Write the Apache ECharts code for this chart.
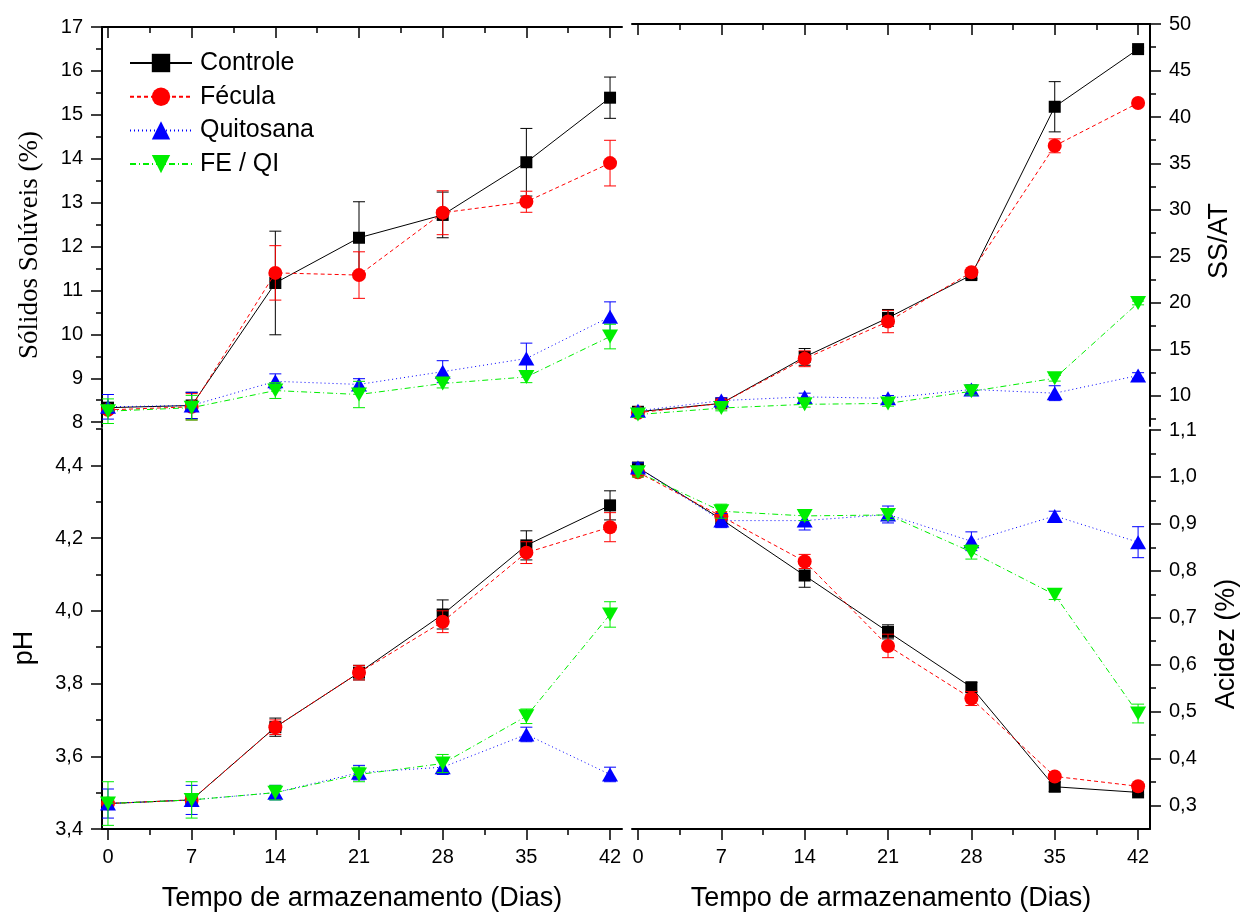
<!DOCTYPE html>
<html><head><meta charset="utf-8">
<script src="https://cdn.jsdelivr.net/npm/echarts@6/dist/echarts.min.js"></script>
<style>html,body{margin:0;padding:0;background:#fff}#chart{width:1241px;height:915px}</style>
</head><body><div id="chart"></div>
<script>
// ---------------- DATA ----------------
const days = [0, 7, 14, 21, 28, 35, 42];
const treatments = ['Controle', 'Fécula', 'Quitosana', 'FE / QI'];

// Sólidos Solúveis (%)
const ssControle     = [8.33, 8.38, 11.17, 12.20, 12.72, 13.92, 15.39];
const ssFecula       = [8.28, 8.35, 11.40, 11.35, 12.77, 13.02, 13.90];
const ssQuitosana    = [8.35, 8.38, 8.93, 8.86, 9.15, 9.45, 10.40];
const ssFeQi         = [8.25, 8.33, 8.72, 8.63, 8.88, 9.03, 9.95];
const ssControleErr  = [0.10, 0.30, 1.18, 0.82, 0.52, 0.77, 0.47];
const ssFeculaErr    = [0.05, 0.30, 0.62, 0.53, 0.50, 0.24, 0.52];
const ssQuitosanaErr = [0.28, 0.30, 0.17, 0.13, 0.25, 0.35, 0.34];
const ssFeQiErr      = [0.28, 0.28, 0.18, 0.30, 0.10, 0.13, 0.28];

// SS/AT
const ratioControle     = [8.3, 9.2, 14.2, 18.4, 23.0, 41.1, 47.3];
const ratioFecula       = [8.2, 9.2, 14.0, 18.0, 23.3, 36.9, 41.5];
const ratioQuitosana    = [8.4, 9.5, 9.9, 9.75, 10.7, 10.3, 12.2];
const ratioFeQi         = [8.0, 8.7, 9.1, 9.2, 10.5, 11.9, 20.0];
const ratioControleErr  = [0.2, 0.3, 0.9, 0.9, 0.4, 2.7, 0.2];
const ratioFeculaErr    = [0.2, 0.3, 0.85, 1.2, 0.3, 0.75, 0.2];
const ratioQuitosanaErr = [0.3, 0.3, 0.4, 0.3, 0.5, 0.8, 0.3];
const ratioFeQiErr      = [0.3, 0.3, 0.3, 0.3, 0.4, 0.3, 0.2];

// pH
const phControle     = [3.47, 3.48, 3.68, 3.83, 3.99, 4.18, 4.29];
const phFecula       = [3.47, 3.48, 3.68, 3.83, 3.97, 4.16, 4.23];
const phQuitosana    = [3.47, 3.48, 3.50, 3.555, 3.57, 3.66, 3.55];
const phFeQi         = [3.47, 3.48, 3.50, 3.55, 3.58, 3.71, 3.99];
const phControleErr  = [0.01, 0.01, 0.025, 0.02, 0.04, 0.04, 0.04];
const phFeculaErr    = [0.01, 0.01, 0.02, 0.02, 0.03, 0.03, 0.04];
const phQuitosanaErr = [0.04, 0.04, 0.02, 0.02, 0.02, 0.02, 0.02];
const phFeQiErr      = [0.06, 0.05, 0.02, 0.02, 0.025, 0.02, 0.035];

// Acidez (%)
const acControle     = [1.02, 0.91, 0.79, 0.67, 0.552, 0.34, 0.328];
const acFecula       = [1.01, 0.916, 0.82, 0.64, 0.528, 0.362, 0.341];
const acQuitosana    = [1.02, 0.907, 0.907, 0.92, 0.863, 0.917, 0.861];
const acFeQi         = [1.01, 0.927, 0.917, 0.919, 0.84, 0.749, 0.496];
const acControleErr  = [0.01, 0.01, 0.025, 0.015, 0.01, 0.01, 0.005];
const acFeculaErr    = [0.01, 0.01, 0.015, 0.025, 0.015, 0.005, 0.005];
const acQuitosanaErr = [0.01, 0.015, 0.02, 0.018, 0.02, 0.01, 0.033];
const acFeQiErr      = [0.01, 0.015, 0.01, 0.01, 0.015, 0.01, 0.02];

// Tick values
const xMajorTicks = [0, 7, 14, 21, 28, 35, 42];
const xMinorTicks = [3.5, 10.5, 17.5, 24.5, 31.5, 38.5];
const ssMajorTicks = [8, 9, 10, 11, 12, 13, 14, 15, 16, 17];
const ssMinorTicks = [8.5, 9.5, 10.5, 11.5, 12.5, 13.5, 14.5, 15.5, 16.5];
const phMajorTicks = [3.4, 3.6, 3.8, 4.0, 4.2, 4.4];
const phMinorTicks = [3.5, 3.7, 3.9, 4.1, 4.3, 4.5];
const ratioMajorTicks = [10, 15, 20, 25, 30, 35, 40, 45, 50];
const ratioMinorTicks = [7.5, 12.5, 17.5, 22.5, 27.5, 32.5, 37.5, 42.5, 47.5];
const acMajorTicks = [0.3, 0.4, 0.5, 0.6, 0.7, 0.8, 0.9, 1.0, 1.1];
const acMinorTicks = [0.35, 0.45, 0.55, 0.65, 0.75, 0.85, 0.95, 1.05];

// ---------------- STYLE ----------------
const SANS = '"Liberation Sans", Arial, sans-serif';
const SERIF = '"Liberation Serif", "Times New Roman", serif';
const styles = [
  {color: '#000000', symbol: 'rect', size: 12, dash: 'solid'},
  {color: '#ff0000', symbol: 'circle', size: 14, dash: [4, 3]},
  {color: '#0000ff', symbol: 'triangle', size: [16, 14], dash: [1, 3]},
  {color: '#00ee00', symbol: 'path://M0,0 L20,0 L10,18 Z', size: [16, 14], dash: [6, 3, 1, 3]}
];

const fmtComma = v => v.toFixed(1).replace('.', ',');
const fmtInt = v => String(Math.round(v));

function xAxes(gridIndex, pos, showLabels) {
  const inside = pos === 'top';
  return [
    {type: 'value', gridIndex, position: pos, min: -0.5, max: 43,
     axisLine: {show: true, onZero: false, lineStyle: {color: '#000', width: 2}},
     axisTick: {show: true, inside, length: 11, customValues: xMajorTicks, lineStyle: {color: '#000', width: 1.5}},
     axisLabel: {show: showLabels, customValues: xMajorTicks, fontSize: 20, color: '#000', fontFamily: SANS, margin: 18},
     splitLine: {show: false}},
    {type: 'value', gridIndex, position: pos, min: -0.5, max: 43,
     axisLine: {show: false, onZero: false},
     axisTick: {show: true, inside, length: 6, customValues: xMinorTicks, lineStyle: {color: '#000', width: 1.5}},
     axisLabel: {show: false},
     splitLine: {show: false}}
  ];
}
function yAxes(gridIndex, pos, min, max, major, minor, fmt) {
  return [
    {type: 'value', gridIndex, position: pos, min, max,
     axisLine: {show: true, onZero: false, lineStyle: {color: '#000', width: 2}},
     axisTick: {show: true, inside: false, length: 11, customValues: major, lineStyle: {color: '#000', width: 1.5}},
     axisLabel: {show: true, customValues: major, formatter: fmt, fontSize: 20, color: '#000', fontFamily: SANS, margin: 19},
     splitLine: {show: false}},
    {type: 'value', gridIndex, position: pos, min, max,
     axisLine: {show: false, onZero: false},
     axisTick: {show: true, inside: false, length: 6, customValues: minor, lineStyle: {color: '#000', width: 1.5}},
     axisLabel: {show: false},
     splitLine: {show: false}}
  ];
}

function lineSeries(k, vals, axisIndex) {
  const s = styles[k];
  return {
    type: 'line', name: treatments[k], xAxisIndex: axisIndex, yAxisIndex: axisIndex,
    data: days.map((d, i) => [d, vals[i]]),
    symbol: s.symbol, symbolSize: s.size, showSymbol: true,
    itemStyle: {color: s.color},
    lineStyle: {color: s.color, width: 1, type: s.dash},
    emphasis: {disabled: true}, z: 3 + k
  };
}
function errSeries(k, vals, errs, axisIndex) {
  const color = styles[k].color;
  return {
    type: 'custom', name: 'err' + k, xAxisIndex: axisIndex, yAxisIndex: axisIndex,
    data: days.map((d, i) => [d, vals[i] - errs[i], vals[i] + errs[i]]),
    encode: {x: 0, y: [1, 2]}, silent: true, z: 3 + k,
    renderItem: (params, api) => {
      const x = api.value(0);
      const p1 = api.coord([x, api.value(1)]);
      const p2 = api.coord([x, api.value(2)]);
      const w = 6;
      const st = {stroke: color, lineWidth: 1, fill: 'none'};
      return {type: 'group', children: [
        {type: 'line', shape: {x1: p1[0], y1: p1[1], x2: p2[0], y2: p2[1]}, style: st},
        {type: 'line', shape: {x1: p1[0] - w, y1: p1[1], x2: p1[0] + w, y2: p1[1]}, style: st},
        {type: 'line', shape: {x1: p2[0] - w, y1: p2[1], x2: p2[0] + w, y2: p2[1]}, style: st}
      ]};
    }
  };
}

const panels = [
  {vals: [ssControle, ssFecula, ssQuitosana, ssFeQi], errs: [ssControleErr, ssFeculaErr, ssQuitosanaErr, ssFeQiErr]},
  {vals: [phControle, phFecula, phQuitosana, phFeQi], errs: [phControleErr, phFeculaErr, phQuitosanaErr, phFeQiErr]},
  {vals: [ratioControle, ratioFecula, ratioQuitosana, ratioFeQi], errs: [ratioControleErr, ratioFeculaErr, ratioQuitosanaErr, ratioFeQiErr]},
  {vals: [acControle, acFecula, acQuitosana, acFeQi], errs: [acControleErr, acFeculaErr, acQuitosanaErr, acFeQiErr]}
];

const series = [];
// line series first (legend takes first series per name)
panels.forEach((p, pi) => { p.vals.forEach((v, k) => series.push(lineSeries(k, v, pi * 2))); });
panels.forEach((p, pi) => { p.vals.forEach((v, k) => series.push(errSeries(k, v, p.errs[k], pi * 2))); });

const option = {
  animation: false,
  backgroundColor: '#fff',
  grid: [
    {left: 102, top: 27, width: 520, height: 400, containLabel: false, outerBoundsMode: 'none'},
    {left: 102, top: 429, width: 520, height: 400, containLabel: false, outerBoundsMode: 'none'},
    {left: 632, top: 24, width: 518, height: 402, containLabel: false, outerBoundsMode: 'none'},
    {left: 632, top: 430, width: 518, height: 399, containLabel: false, outerBoundsMode: 'none'}
  ],
  xAxis: [
    ...xAxes(0, 'top', false),
    ...xAxes(1, 'bottom', true),
    ...xAxes(2, 'top', false),
    ...xAxes(3, 'bottom', true)
  ],
  yAxis: [
    ...yAxes(0, 'left', 7.89, 17, ssMajorTicks, ssMinorTicks, fmtInt),
    ...yAxes(1, 'left', 3.4, 4.5, phMajorTicks, phMinorTicks, fmtComma),
    ...yAxes(2, 'right', 6.77, 50, ratioMajorTicks, ratioMinorTicks, fmtInt),
    ...yAxes(3, 'right', 0.25, 1.1, acMajorTicks, acMinorTicks, fmtComma)
  ],
  legend: {
    data: treatments, orient: 'vertical', left: 129, top: 50.5, padding: 0,
    itemWidth: 62, itemHeight: 23, itemGap: 8.7,
    textStyle: {fontSize: 25, color: '#000', fontFamily: SANS, padding: [0, 0, 0, 3]},
    selectedMode: false
  },
  graphic: [
    {type: 'text', x: 30, y: 245, rotation: Math.PI / 2,
     style: {text: 'Sólidos Solúveis (%)', fontSize: 27, fontFamily: SERIF, fill: '#000', align: 'center', verticalAlign: 'middle', textAlign: 'center', textVerticalAlign: 'middle'}},
    {type: 'text', x: 25, y: 648, rotation: Math.PI / 2,
     style: {text: 'pH', fontSize: 27, fontFamily: SANS, fill: '#000', align: 'center', verticalAlign: 'middle', textAlign: 'center', textVerticalAlign: 'middle'}},
    {type: 'text', x: 1220, y: 241, rotation: Math.PI / 2,
     style: {text: 'SS/AT', fontSize: 27, fontFamily: SANS, fill: '#000', align: 'center', verticalAlign: 'middle', textAlign: 'center', textVerticalAlign: 'middle'}},
    {type: 'text', x: 1227, y: 644, rotation: Math.PI / 2,
     style: {text: 'Acidez (%)', fontSize: 27, fontFamily: SANS, fill: '#000', align: 'center', verticalAlign: 'middle', textAlign: 'center', textVerticalAlign: 'middle'}},
    {type: 'text', x: 362, y: 899,
     style: {text: 'Tempo de armazenamento (Dias)', fontSize: 27, fontFamily: SANS, fill: '#000', align: 'center', verticalAlign: 'middle', textAlign: 'center', textVerticalAlign: 'middle'}},
    {type: 'text', x: 891, y: 899,
     style: {text: 'Tempo de armazenamento (Dias)', fontSize: 27, fontFamily: SANS, fill: '#000', align: 'center', verticalAlign: 'middle', textAlign: 'center', textVerticalAlign: 'middle'}}
  ],
  series
};

const chart = echarts.init(document.getElementById('chart'), null, {renderer: 'canvas'});
chart.setOption(option);
</script>
</body></html>
